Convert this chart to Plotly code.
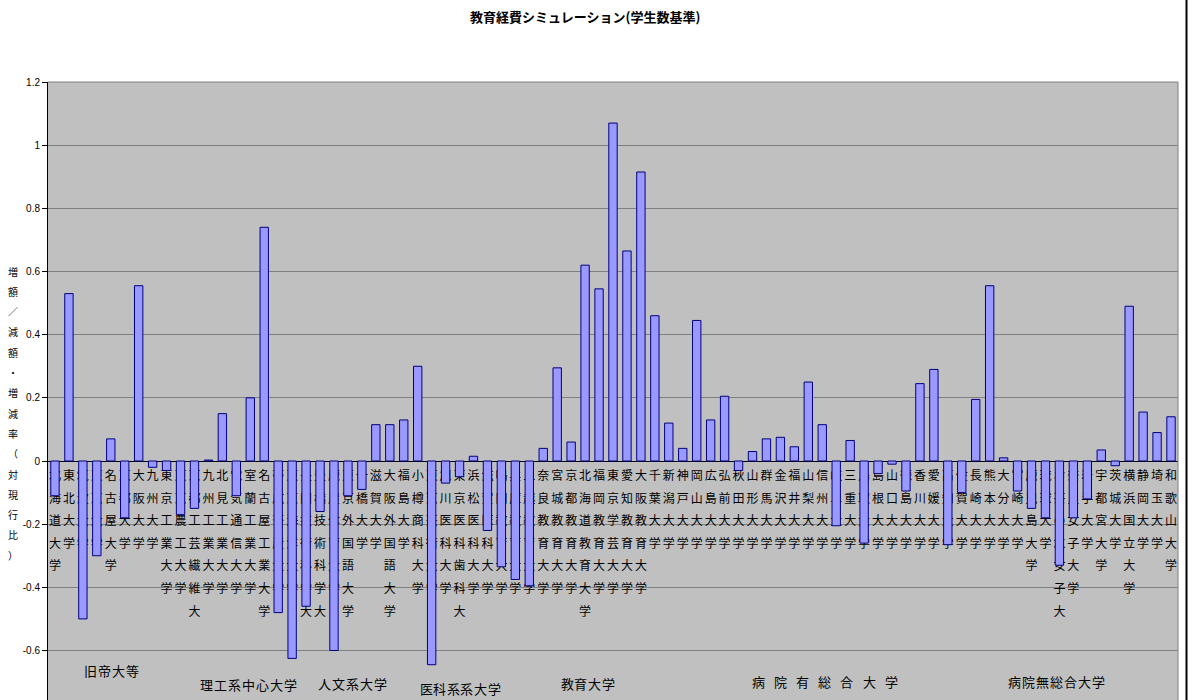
import plotly.graph_objects as go

# ---------------- data ----------------
universities = [
    "北海道大学", "東北大学", "筑波大学", "東京大学", "名古屋大学", "京都大学", "大阪大学", "九州大学",
    "東京工業大学", "東京農工大学", "京都工芸繊維大学", "九州工業大学", "北見工業大学", "電気通信大学",
    "室蘭工業大学", "名古屋工業大学", "帯広畜産大学", "東京海洋大学", "長岡技術科学大学", "豊橋技術科学大学",
    "鹿屋体育大学", "東京外国語大学", "一橋大学", "滋賀大学", "大阪外国語大学", "福島大学", "小樽商科大学",
    "東京芸術大学",
    "旭川医科大学", "東京医科歯科大学", "浜松医科大学", "滋賀医科大学",
    "鳴門教育大学", "兵庫教育大学", "上越教育大学", "奈良教育大学", "宮城教育大学", "京都教育大学",
    "北海道教育大学", "福岡教育大学", "東京学芸大学", "愛知教育大学", "大阪教育大学",
    "千葉大学", "新潟大学", "神戸大学", "岡山大学", "広島大学", "弘前大学", "秋田大学", "山形大学",
    "群馬大学", "金沢大学", "福井大学", "山梨大学", "信州大学", "岐阜大学", "三重大学", "鳥取大学",
    "島根大学", "山口大学", "徳島大学", "香川大学", "愛媛大学", "高知大学", "佐賀大学", "長崎大学",
    "熊本大学", "大分大学", "宮崎大学", "鹿児島大学", "琉球大学",
    "お茶の水女子大学", "奈良女子大学", "岩手大学", "宇都宮大学", "茨城大学", "横浜国立大学",
    "静岡大学", "埼玉大学", "和歌山大学",
]
values = [
    -0.11, 0.53, -0.50, -0.30, 0.07, -0.18, 0.555, -0.02,
    -0.03, -0.17, -0.15, 0.003, 0.15, -0.11,
    0.20, 0.74, -0.48, -0.625, -0.46, -0.16,
    -0.60, -0.11, -0.09, 0.115, 0.115, 0.13, 0.30,
    -0.645,
    -0.07, -0.05, 0.015, -0.22,
    -0.335, -0.375, -0.395, 0.04, 0.295, 0.06,
    0.62, 0.545, 1.07, 0.665, 0.915,
    0.46, 0.12, 0.04, 0.445, 0.13, 0.205, -0.03, 0.03,
    0.07, 0.075, 0.045, 0.25, 0.115, -0.205, 0.065, -0.26,
    -0.04, -0.01, -0.095, 0.245, 0.29, -0.265, -0.10, 0.195,
    0.555, 0.01, -0.095, -0.15, -0.18,
    -0.33, -0.18, -0.12, 0.035, -0.015, 0.49,
    0.155, 0.09, 0.14,
]
tick_vals = [-0.6, -0.4, -0.2, 0.0, 0.2, 0.4, 0.6, 0.8, 1.0, 1.2]
tick_text = ["-0.6", "-0.4", "-0.2", "0", "0.2", "0.4", "0.6", "0.8", "1", "1.2"]

title_text = "教育経費シミュレーション(学生数基準)"
y_title_text = "増額／減額・増減率（対現行比）"
group_labels = ["旧帝大等", "理工系中心大学", "人文系大学", "医科系系大学", "教育大学",
                "病院有総合大学", "病院無総合大学"]

# ---------------- layout geometry ----------------
W, H = 1192, 700
L, R, T, B = 48, 14, 82, 0
PW, PH = W - L - R, H - T - B
Y_MAX = 1.2
ZERO_PX = 461
Y_MIN = Y_MAX - Y_MAX * PH / (ZERO_PX - T)
PX_PER_UNIT = PH / (Y_MAX - Y_MIN)


def paper_x(px):
    return (px - L) / PW


def paper_y(py):
    return (H - B - py) / PH


FONT_JP = "Noto Sans CJK JP"
n = len(universities)
xs = list(range(n))

fig = go.Figure()

# vertical category labels (one trace per character row), drawn beneath the bars
MAX_ROWS = 7
for k in range(MAX_ROWS):
    row_txt = [u[k] if len(u) > k else "" for u in universities]
    y_k = -(16 + 22.6 * k) / PX_PER_UNIT
    fig.add_trace(go.Scatter(
        x=xs, y=[y_k] * n, text=row_txt, mode="text",
        textposition="middle center",
        textfont=dict(family=FONT_JP, size=12, color="#000000"),
        hoverinfo="skip", showlegend=False, xaxis="x", yaxis="y",
    ))

# bars on an overlaid subplot so they sit on top of the labels
fig.add_trace(go.Bar(
    x=xs, y=values, width=0.6,
    marker=dict(color="#9999ff", line=dict(color="#000080", width=1)),
    showlegend=False, xaxis="x2", yaxis="y2",
    hovertext=universities, hoverinfo="text+y",
))

annotations = []
# title
annotations.append(dict(
    text=f"<b>{title_text}</b>", x=paper_x(585), y=paper_y(16), xref="paper", yref="paper",
    showarrow=False, xanchor="center", yanchor="middle",
    font=dict(family=FONT_JP, size=13, color="#000000"),
))
# y axis title, stacked characters
for i, ch in enumerate(y_title_text):
    annotations.append(dict(
        text=ch, x=paper_x(13), y=paper_y(271 + i * 20.3), xref="paper", yref="paper",
        showarrow=False, xanchor="center", yanchor="middle",
        font=dict(family=FONT_JP, size=10, color="#000000"),
    ))
# group labels, characters placed individually
group_pos = [  # (first char px, spacing px, y px)
    (90, 14.2, 670),
    (206, 14.0, 684),
    (324, 14.0, 683),
    (426, 13.6, 688),
    (567, 13.7, 683),
    (758, 22.2, 681),
    (1014, 14.0, 681),
]
for lbl, (x0, dx, yc) in zip(group_labels, group_pos):
    for i, ch in enumerate(lbl):
        annotations.append(dict(
            text=ch, x=paper_x(x0 + i * dx), y=paper_y(yc), xref="paper", yref="paper",
            showarrow=False, xanchor="center", yanchor="middle",
            font=dict(family=FONT_JP, size=13, color="#000000"),
        ))

shapes = [
    # plot area top & right border
    dict(type="line", xref="paper", yref="paper", x0=0, x1=1, y0=1, y1=1,
         line=dict(color="#808080", width=1)),
    dict(type="line", xref="paper", yref="paper", x0=1, x1=1, y0=0, y1=1,
         line=dict(color="#808080", width=1)),
    # chart frame line on the right
    dict(type="line", xref="paper", yref="paper", x0=paper_x(1186.5), x1=paper_x(1186.5),
         y0=paper_y(700), y1=paper_y(0), line=dict(color="#000000", width=2)),
]

fig.update_layout(
    width=W, height=H,
    margin=dict(l=L, r=R, t=T, b=B, pad=0),
    paper_bgcolor="#ffffff", plot_bgcolor="#c0c0c0",
    showlegend=False,
    annotations=annotations, shapes=shapes,
    xaxis=dict(range=[-0.5, n - 0.5], showticklabels=False, showgrid=False,
               zeroline=False, showline=False, ticks="", fixedrange=True),
    xaxis2=dict(range=[-0.5, n - 0.5], overlaying="x", anchor="y2", visible=False,
                fixedrange=True),
    yaxis=dict(range=[Y_MIN, Y_MAX], tickvals=tick_vals, ticktext=tick_text,
               showgrid=True, gridcolor="#808080", gridwidth=1,
               zeroline=True, zerolinecolor="#000000", zerolinewidth=1,
               showline=True, linecolor="#000000", linewidth=1,
               ticks="outside", ticklen=5, tickcolor="#000000",
               tickfont=dict(family="Liberation Sans", size=10, color="#000000"),
               fixedrange=True),
    yaxis2=dict(range=[Y_MIN, Y_MAX], overlaying="y", anchor="x2", visible=False,
                fixedrange=True),
    bargap=0.4,
)

fig.write_html("out.html")
